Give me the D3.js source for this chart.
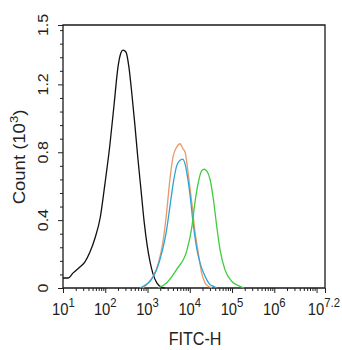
<!DOCTYPE html>
<html><head><meta charset="utf-8">
<script src="https://cdn.jsdelivr.net/npm/d3@7"></script>
<style>html,body{margin:0;padding:0;background:#fff;}svg{display:block;}</style>
</head><body>
<svg id="c" width="342" height="350"></svg>
<script>
// ---- data (FITC-H value, count in thousands) ----
const blackX = [10,13.2,17.4,25.1,33.1,43.7,57.5,75.9,97.7,129,162,200,234,263,309,363,427,501,589,708,832,977,1148,1349,1660,2089,2570];
const blackY = [0.059,0.059,0.089,0.124,0.154,0.213,0.296,0.414,0.609,0.846,1.083,1.302,1.385,1.402,1.391,1.302,1.142,0.964,0.769,0.568,0.391,0.254,0.154,0.083,0.030,0.006,0];
const orangeX = [776,955,1380,1820,2344,2818,3388,4074,4898,5888,6918,7762,9333,11220,13183,15849,19055,22909,27542,33884];
const orangeY = [0,0.02,0.07,0.15,0.28,0.44,0.64,0.78,0.83,0.85,0.82,0.80,0.66,0.50,0.34,0.21,0.09,0.03,0.01,0];
const blueX = [661,794,1148,1660,2188,2818,3388,4074,4898,5754,6761,7762,8511,10233,12023,14454,17378,22909,30200,36308,43652];
const blueY = [0,0.01,0.04,0.11,0.21,0.34,0.48,0.62,0.72,0.75,0.76,0.73,0.68,0.54,0.38,0.24,0.15,0.07,0.02,0.01,0];
const greenX = [1778,2818,4898,8511,11220,13183,15849,19055,21878,25119,30200,36308,43652,52481,67608,97724,154882,190546];
const greenY = [0,0.03,0.11,0.22,0.36,0.50,0.62,0.69,0.70,0.69,0.64,0.52,0.36,0.22,0.11,0.04,0.01,0];

const xTickValues = [1e1,1e2,1e3,1e4,1e5,1e6,1e7,Math.pow(10,7.2)];
const xLabelValues = [1e1,1e2,1e3,1e4,1e5,1e6,Math.pow(10,7.2)];
const xLabelExponents = ["1","2","3","4","5","6","7.2"];
const yTickValues = [0,0.4,0.8,1.2,1.55];
const yTickLabels = ["0","0.4","0.8","1.2","1.5"];
const xTitle = "FITC-H";
const yTitle = "Count (10";
const yTitleSup = "3";

const series = [
  {name:"black", xs:blackX, ys:blackY, color:"#111111"},
  {name:"orange", xs:orangeX, ys:orangeY, color:"#e89a6a"},
  {name:"blue", xs:blueX, ys:blueY, color:"#2ea3d6"},
  {name:"green", xs:greenX, ys:greenY, color:"#3fcc3f"}
];

// ---- layout ----
const L = 63, R = 325, T = 25, B = 288, SQ = 0.87;
const FONT = "Liberation Sans, Arial, sans-serif";
const svg = d3.select("#c");
const x = d3.scaleLog().domain([xTickValues[0], xTickValues[xTickValues.length-1]]).range([L,R]);
const y = d3.scaleLinear().domain([0,1.55]).range([B,T]);

// minor ticks
const xMinor = [];
for (let k=1;k<7;k++) for (let m=2;m<=9;m++) xMinor.push(m*Math.pow(10,k));
const yMinor = [];
for (let i=1;i<=19;i++){ const v=+(i*0.08).toFixed(2); if (i%5!==0) yMinor.push(v); }

const axisColor = "#222";
function styleAxis(g){ g.select(".domain").remove(); g.selectAll("line").attr("stroke",axisColor).attr("stroke-width",1); }

svg.append("g").attr("transform",`translate(0,${B})`)
  .call(d3.axisBottom(x).tickValues(xMinor).tickSize(3).tickFormat("")).call(styleAxis);
svg.append("g").attr("transform",`translate(0,${B})`)
  .call(d3.axisBottom(x).tickValues(xTickValues).tickSize(5).tickFormat("")).call(styleAxis);
svg.append("g").attr("transform",`translate(${L},0)`)
  .call(d3.axisLeft(y).tickValues(yMinor).tickSize(3).tickFormat("")).call(styleAxis);
svg.append("g").attr("transform",`translate(${L},0)`)
  .call(d3.axisLeft(y).tickValues(yTickValues).tickSize(5).tickFormat("")).call(styleAxis);

// frame
svg.append("path").attr("d",`M${L},${B}V${T}H${R}V${B}Z`).attr("fill","none")
  .attr("stroke","#1a1a1a").attr("stroke-width",1.3);

// curves
const line = d3.line().x(d=>x(d[0])).y(d=>y(d[1])).curve(d3.curveMonotoneX);
series.forEach(s=>{
  const pts = s.xs.map((v,i)=>[v,s.ys[i]]);
  svg.append("path").attr("d",line(pts)).attr("fill","none")
    .attr("stroke",s.color).attr("stroke-width",1.3).attr("stroke-linejoin","round");
});

// x tick labels
xLabelValues.forEach((v,i)=>{
  const g = svg.append("g");
  const t = g.append("text").attr("font-family",FONT).attr("font-size",17).attr("fill","#222");
  t.append("tspan").text("10");
  t.append("tspan").attr("font-size",13).attr("dy",-8).text(xLabelExponents[i]);
  const w = t.node().getComputedTextLength()*SQ;
  let left = x(v) - w/2;
  if (left + w > 340) left = 340 - w;
  if (left < 52) left = 52;
  g.attr("transform",`translate(${left},315) scale(${SQ},1)`);
});

// y tick labels (rotated)
yTickValues.forEach((v,i)=>{
  svg.append("text").attr("font-family",FONT).attr("font-size",16).attr("fill","#222")
    .attr("text-anchor","middle")
    .attr("transform",`translate(48,${y(v)}) scale(${SQ},1) rotate(-90)`)
    .text(yTickLabels[i]);
});

// axis titles
svg.append("text").attr("font-family",FONT).attr("font-size",18.5).attr("fill","#222")
  .attr("text-anchor","middle")
  .attr("transform",`translate(195,345) scale(${SQ},1)`).text(xTitle);

const yt = svg.append("text").attr("font-family",FONT).attr("font-size",18.5).attr("fill","#222")
  .attr("text-anchor","middle")
  .attr("transform",`translate(25,157) scale(${SQ},1) rotate(-90)`);
yt.append("tspan").text(yTitle);
yt.append("tspan").attr("font-size",13).attr("dy",-8).text(yTitleSup);
yt.append("tspan").attr("dy",8).text(")");
</script>
</body></html>
